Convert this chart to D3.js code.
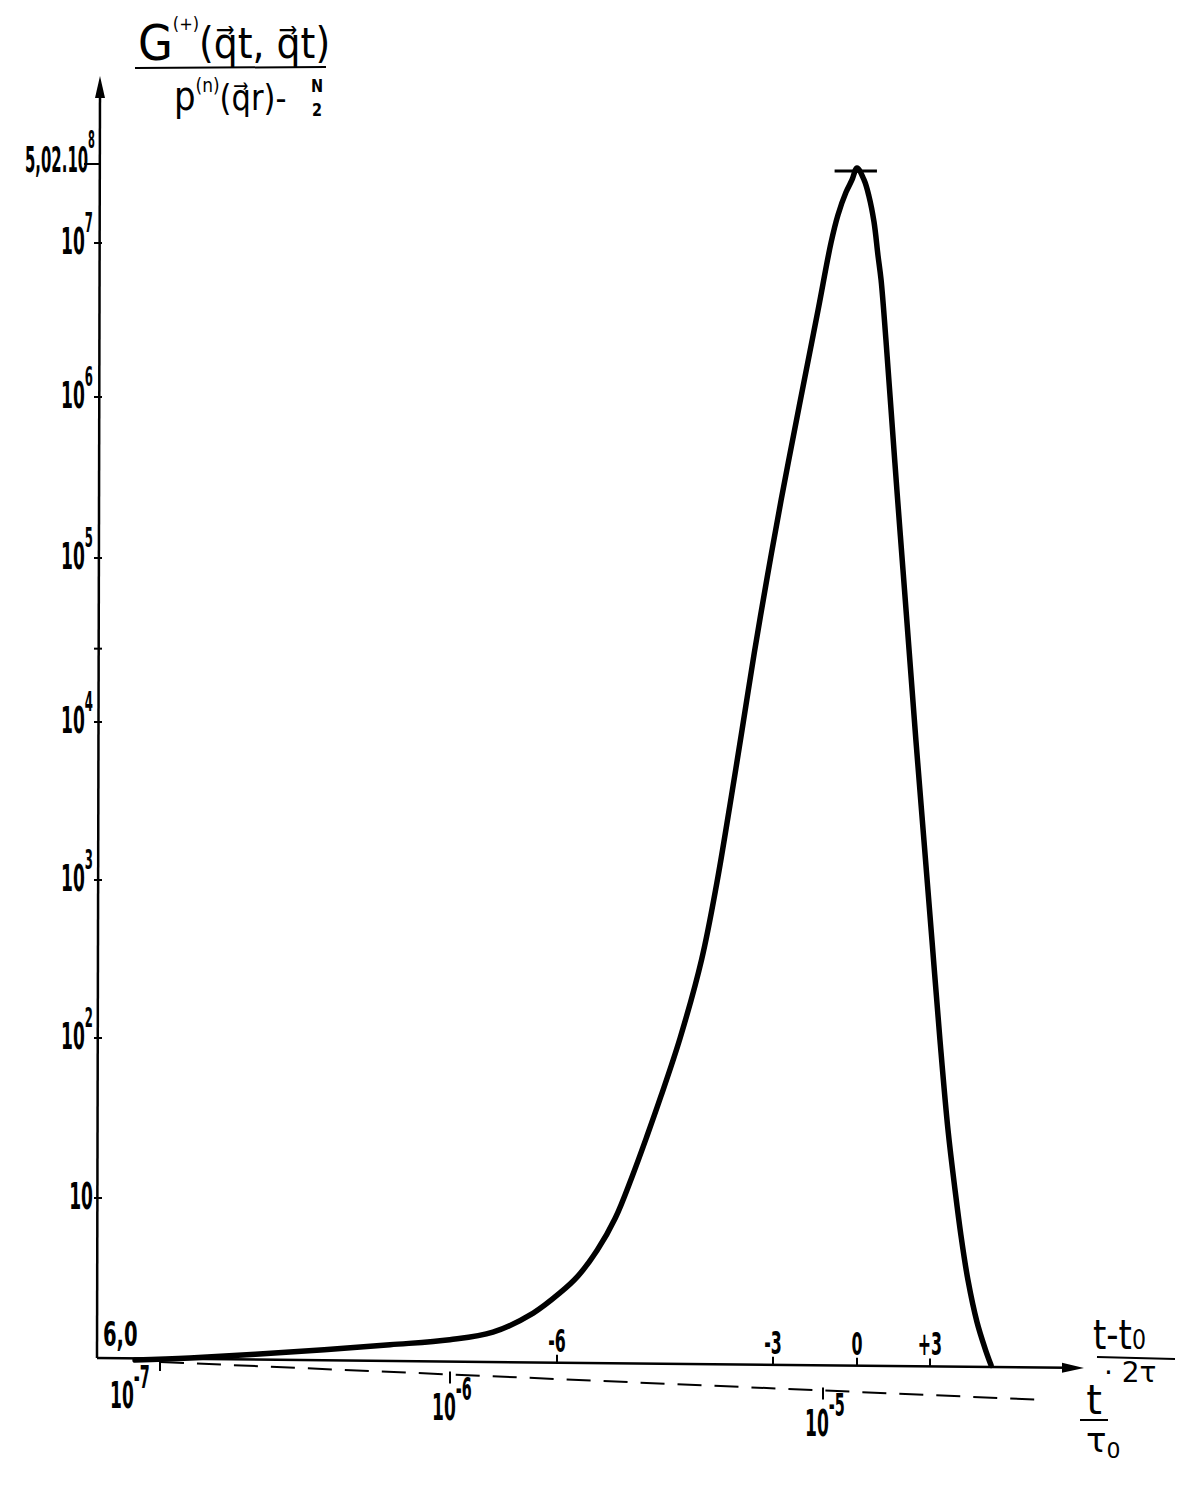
<!DOCTYPE html>
<html><head><meta charset="utf-8">
<script src="https://cdn.jsdelivr.net/npm/d3@7"></script>
<style>body{margin:0;background:#fff} svg{display:block}</style>
</head><body>
<svg id="c" width="1204" height="1486"></svg>
<script>
// ---- data ----
// x: (t - t0)/2τ   ;  y: G(+)/(p(n) - N/2)
const xVals = [-11.86,-11.10,-9.71,-8.32,-7.49,-6.89,-6.33,-5.96,-5.71,-5.44,-5.19,-4.96,-4.75,-4.56,-4.29,-3.99,-3.78,-3.60,-3.43,-3.26,-3.08,-2.71,-2.07,-1.86,-1.39,-0.93,-0.68,-0.39,-0.18,0.0,0.29,0.49,0.70,0.86,0.99,1.19,1.40,1.64,1.89,2.14,2.42,2.75,3.08,3.41,3.74,4.03,4.27,4.56,4.93,5.26,5.51];
const gVals = [0.97,1.0,1.09,1.21,1.30,1.45,1.91,2.55,3.25,4.73,7.50,13.5,24.4,42.8,100,316,957,2940,8900,26400,76600,2.29e5,8.67e5,1.35e6,3.67e6,1.0e7,4.32e7,1.43e8,2.69e8,5.02e8,2.69e8,1.16e8,2.99e7,8.36e6,5.75e6,2.34e6,8.3e5,2.64e5,8.45e4,2.75e4,7690,1790,417,97,26.6,11.2,5.87,3.07,1.68,1.15,0.90];
const peakValue = 5.02e8;

const yTickValues = [10,1e2,1e3,1e4,1e5,1e6,1e7];
const yTickSups   = ["","2","3","4","5","6","7"];
const yMinorTicks = [2.8e4];
const xTickValues = [-6,-3,0,3];
const xTickLabels = ["-6","-3","0","+3"];
const tTickValues = [1e-7,1e-6,1e-5];
const tTickSups   = ["-7","-6","-5"];

// ---- scales (hand-drawn, piecewise) ----
const y = d3.scaleLog()
  .domain([1,10,1e2,1e3,1e4,1e5,1e6,1e7,peakValue])
  .range([1358,1198,1038,880,722,558,397,243,168]);
const x = d3.scaleLinear().domain([-6,-3,0,3]).range([557,773,857,930]);
const tS = d3.scaleLog().domain([1e-7,1e-6,1e-5]).range([160,450,823]);

const svg = d3.select("#c");
const F = "'DejaVu Sans Condensed','Liberation Sans Narrow','DejaVu Sans',sans-serif";
const FT = "'DejaVu Sans','Liberation Sans',sans-serif";
const x0 = 98, y0 = y(1);

const axY = px => y0 + (px - x0) * 10 / 983;
const dashY = px => 1362 + (px - 160) * 38 / 885;

function lab(px, py, anchor, size, sx, parts){
  const t = svg.append("text").attr("x",px).attr("y",py).attr("text-anchor",anchor)
    .attr("font-family",F).attr("font-weight","bold").attr("font-size",size)
    .attr("transform",`translate(${px},0) scale(${sx},1) translate(${-px},0)`);
  parts.forEach(p=>{
    const s = t.append("tspan").text(p.t);
    if (p.dy) s.attr("dy",p.dy);
    if (p.fs) s.attr("font-size",p.fs);
  });
  return t;
}

// y axis
svg.append("line").attr("x1",x0-1).attr("y1",y0).attr("x2",x0+2).attr("y2",90)
  .attr("stroke","#000").attr("stroke-width",2.5);
svg.append("path").attr("d",`M${x0+2},76 L${x0-3},98 L${x0+7},98 Z`).attr("fill","#000");

yTickValues.concat(yMinorTicks).forEach(v=>{
  svg.append("line").attr("x1",x0-4).attr("x2",x0+4).attr("y1",y(v)).attr("y2",y(v))
    .attr("stroke","#000").attr("stroke-width",2);
});
svg.append("line").attr("x1",x0-14).attr("x2",x0+3).attr("y1",y(peakValue)-4).attr("y2",y(peakValue)-4)
  .attr("stroke","#000").attr("stroke-width",2);

yTickValues.forEach((v,i)=>{
  const parts = [{t:"10"}];
  if (yTickSups[i]) parts.push({t:yTickSups[i], dy:-22, fs:26});
  lab(x0-5, y(v)+11, "end", 38, 0.5, parts);
});
lab(x0-3, y(peakValue)+4, "end", 36, 0.46, [{t:"5,02.10"},{t:"8",dy:-24,fs:24}]);
lab(103, y0-12, "start", 33, 0.66, [{t:"6,0"}]);

// solid x axis
svg.append("line").attr("x1",x0-1).attr("y1",y0).attr("x2",1068).attr("y2",axY(1068))
  .attr("stroke","#000").attr("stroke-width",2.5);
svg.append("path").attr("d",`M1084,${axY(1084)} L1062,${axY(1062)-5} L1062,${axY(1062)+5} Z`).attr("fill","#000");
xTickValues.forEach((v,i)=>{
  const px = x(v);
  svg.append("line").attr("x1",px).attr("x2",px).attr("y1",axY(px)-8).attr("y2",axY(px))
    .attr("stroke","#000").attr("stroke-width",2);
  lab(px, axY(px)-11, "middle", 32, 0.55, [{t:xTickLabels[i]}]);
});

// dashed t/τ0 axis
svg.append("line").attr("x1",160).attr("y1",dashY(160)).attr("x2",1045).attr("y2",dashY(1045))
  .attr("stroke","#000").attr("stroke-width",2).attr("stroke-dasharray","24,13");
tTickValues.forEach((v,i)=>{
  const px = tS(v);
  svg.append("line").attr("x1",px).attr("x2",px).attr("y1",dashY(px)-3).attr("y2",dashY(px)+9)
    .attr("stroke","#000").attr("stroke-width",2);
  const lx = i === 0 ? px - 50 : px - 18;
  lab(lx, dashY(px)+46, "start", 38, 0.5, [{t:"10"},{t:tTickSups[i],dy:-20,fs:32}]);
});

// curve
const pts = xVals.map((v,i)=>[v,gVals[i]]);
svg.append("path").datum(pts)
  .attr("d", d3.line().x(d=>x(d[0])).y(d=>y(d[1])).curve(d3.curveCatmullRom.alpha(0.5)))
  .attr("fill","none").attr("stroke","#000").attr("stroke-width",5.5)
  .attr("stroke-linecap","round").attr("stroke-linejoin","round");
svg.append("line").attr("x1",x(-0.8)).attr("x2",x(0.82)).attr("y1",y(peakValue)+3).attr("y2",y(peakValue)+3)
  .attr("stroke","#000").attr("stroke-width",3);

// y axis title (fraction)
const num = svg.append("text").attr("x",138).attr("y",60).attr("font-family",FT)
  .attr("transform","translate(138,0) scale(0.9,1) translate(-138,0)");
num.append("tspan").attr("font-size",50).text("G");
num.append("tspan").attr("font-size",18).attr("dy",-30).text("(+)");
num.append("tspan").attr("font-size",42).attr("dy",28).text("(q\u20D7t, q\u20D7t)");
svg.append("line").attr("x1",135).attr("x2",326).attr("y1",68).attr("y2",67).attr("stroke","#000").attr("stroke-width",2);
const dsx = 0.85, dx0 = 174;
const den = svg.append("text").attr("x",dx0).attr("y",110).attr("font-family",FT)
  .attr("transform",`translate(${dx0},0) scale(${dsx},1) translate(${-dx0},0)`);
den.append("tspan").attr("font-size",40).text("p");
den.append("tspan").attr("font-size",20).attr("dy",-18).text("(n)");
den.append("tspan").attr("font-size",36).attr("dy",18).text("(q\u20D7r)-");
const nx = dx0 + (317 - dx0) / dsx;
den.append("tspan").attr("x",nx).attr("y",92).attr("font-size",17).attr("font-weight","bold").attr("text-anchor","middle").text("N");
den.append("tspan").attr("x",nx).attr("y",116).attr("font-size",17).attr("font-weight","bold").attr("text-anchor","middle").text("2");

// x axis titles
const r1 = svg.append("text").attr("x",1093).attr("y",1349).attr("font-family",FT)
  .attr("transform","translate(1093,0) scale(0.85,1) translate(-1093,0)");
r1.append("tspan").attr("font-size",40).text("t-t");
r1.append("tspan").attr("font-size",26).text("0");
svg.append("line").attr("x1",1097).attr("x2",1175).attr("y1",1357).attr("y2",1359).attr("stroke","#000").attr("stroke-width",2);
svg.append("text").attr("x",1104).attr("y",1382).attr("font-family",FT).attr("font-size",28).text("\u00B7 2τ");
svg.append("text").attr("x",1094).attr("y",1414).attr("font-family",FT).attr("font-size",40).attr("text-anchor","middle").text("t");
svg.append("line").attr("x1",1080).attr("x2",1108).attr("y1",1420).attr("y2",1420).attr("stroke","#000").attr("stroke-width",2);
const r3 = svg.append("text").attr("x",1086).attr("y",1452).attr("font-family",FT);
r3.append("tspan").attr("font-size",34).text("τ");
r3.append("tspan").attr("font-size",22).attr("dy",6).text("0");
</script>
</body></html>
